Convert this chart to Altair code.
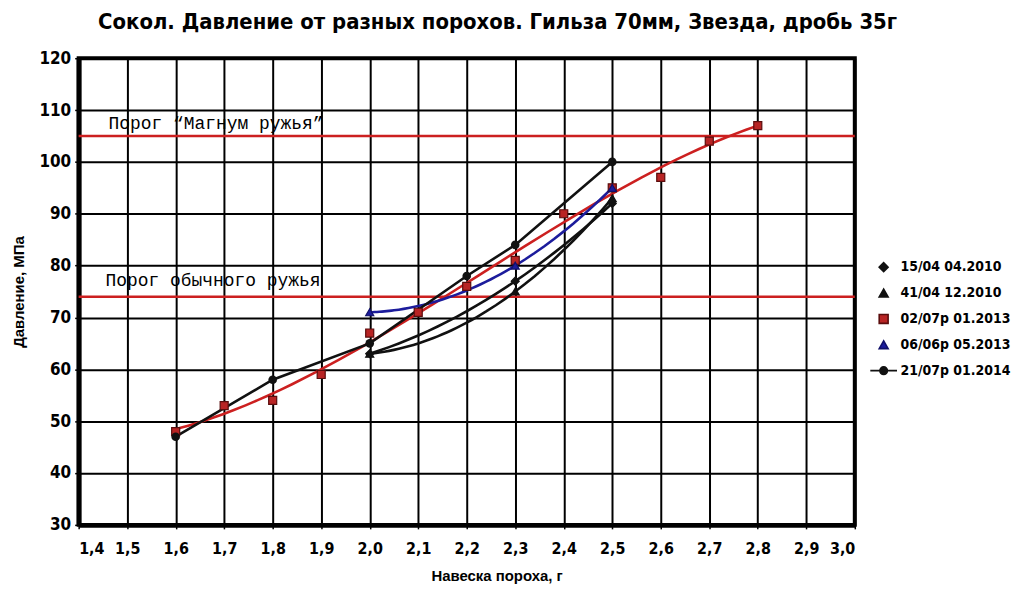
import altair as alt
import pandas as pd

# ---------------- data ----------------
series_names = ["15/04 04.2010", "41/04 12.2010", "02/07р 01.2013", "06/06р 05.2013", "21/07р 01.2014"]

s1_x = [2.0, 2.3, 2.5]
s1_y = [63, 77, 92]
s2_x = [2.0, 2.3, 2.5]
s2_y = [63, 75, 93]
s3_x = [1.6, 1.7, 1.8, 1.9, 2.0, 2.1, 2.2, 2.3, 2.4, 2.5, 2.6, 2.7, 2.8]
s3_y = [48, 53, 54, 59, 67, 71, 76, 81, 90, 95, 97, 104, 107]
s4_x = [2.0, 2.3, 2.5]
s4_y = [71, 80, 95]
s5_x = [1.6, 1.8, 2.0, 2.2, 2.3, 2.5]
s5_y = [47, 58, 65, 78, 84, 100]

thresholds = [105, 74]
threshold_labels = ["Порог “Магнум ружья”", "Порог обычного ружья"]

x_ticks = [1.4, 1.5, 1.6, 1.7, 1.8, 1.9, 2.0, 2.1, 2.2, 2.3, 2.4, 2.5, 2.6, 2.7, 2.8, 2.9, 3.0]
y_ticks = [30, 40, 50, 60, 70, 80, 90, 100, 110, 120]

title_text = "Сокол. Давление от разных порохов. Гильза 70мм, Звезда, дробь 35г"
x_title = "Навеска пороха, г"
y_title = "Давление, МПа"

# ---------------- tables ----------------
all_x = [s1_x, s2_x, s3_x, s4_x, s5_x]
all_y = [s1_y, s2_y, s3_y, s4_y, s5_y]
rows = []
for name, xs, ys in zip(series_names, all_x, all_y):
    for xv, yv in zip(xs, ys):
        rows.append({"series": name, "x": xv, "y": yv})
df = pd.DataFrame(rows)
thr_df = pd.DataFrame({"y": thresholds, "label": threshold_labels})

# ---------------- styling ----------------
RED_LINE = "#cc2020"
BLUE = "#1c1c9c"
BLACK = "#111111"
LEGEND_LINE_CIRCLE = "M-3,0L3,0M-0.85,0A0.85,0.85,0,1,0,0.85,0A0.85,0.85,0,1,0,-0.85,0Z"
COND = "DejaVu Sans Condensed, Liberation Sans"

shapes = ["diamond", "triangle-up", "square", "triangle-up", LEGEND_LINE_CIRCLE]
fills = [BLACK, BLACK, "#b82424", BLUE, BLACK]
strokes = [BLACK, BLACK, "#5a0c0c", "#10106a", BLACK]

x_scale = alt.Scale(domain=[1.4, 3.0], nice=False, zero=False)
y_scale = alt.Scale(domain=[30, 120], nice=False, zero=False)

x_enc = alt.X(
    "x:Q", scale=x_scale, title=x_title,
    axis=alt.Axis(values=x_ticks, labelExpr="replace(format(datum.value, '.1f'), '.', ',')",
                  titleX=420),
)
y_enc = alt.Y("y:Q", scale=y_scale, title=y_title, axis=alt.Axis(values=y_ticks))

base = alt.Chart(df)


def trend(name, color, order=2, extent=None):
    kw = {"method": "poly", "order": order}
    if extent is not None:
        kw["extent"] = extent
    return (
        base.transform_filter(alt.datum.series == name)
        .transform_regression("x", "y", **kw)
        .mark_line(color=color, strokeWidth=2.6)
        .encode(x=x_enc, y=y_enc)
    )


thr_rules = alt.Chart(thr_df).mark_rule(color=RED_LINE, strokeWidth=2.4).encode(y=alt.Y("y:Q", scale=y_scale))

txt_font = "Liberation Mono"
thr_text1 = (
    alt.Chart(thr_df).transform_filter(alt.datum.y == thresholds[0])
    .mark_text(font=txt_font, fontSize=18, align="left", baseline="bottom", dx=30, dy=-3, color="black")
    .encode(x=alt.datum(1.4), y=alt.Y("y:Q", scale=y_scale), text="label:N")
)
thr_text2 = (
    alt.Chart(thr_df).transform_filter(alt.datum.y == thresholds[1])
    .mark_text(font=txt_font, fontSize=18, align="left", baseline="bottom", dx=27, dy=-7, color="black")
    .encode(x=alt.datum(1.4), y=alt.Y("y:Q", scale=y_scale), text="label:N")
)

red_trend = trend(series_names[2], RED_LINE, order=3, extent=[1.6, 2.8])
t1 = trend(series_names[0], BLACK)
t2 = trend(series_names[1], BLACK)
t4 = trend(series_names[3], BLUE)

line5 = (
    base.transform_filter(alt.datum.series == series_names[4])
    .mark_line(color=BLACK, strokeWidth=2.6)
    .encode(x=x_enc, y=y_enc)
)
pts5 = (
    base.transform_filter(alt.datum.series == series_names[4])
    .mark_point(filled=True, shape="circle", size=75, color=BLACK, opacity=1)
    .encode(x=x_enc, y=y_enc)
)

legend = alt.Legend(
    title=None, orient="none", legendX=802, legendY=203,
    labelFont=COND, labelFontWeight="bold", labelFontSize=14, labelColor="black",
    symbolSize=80, symbolStrokeWidth=1.6, rowPadding=10, labelOffset=10, labelLimit=200,
)

pts = (
    base.transform_filter(alt.datum.series != series_names[4])
    .mark_point(filled=True, size=65, strokeWidth=1.2, opacity=1)
    .encode(
        x=x_enc, y=y_enc,
        shape=alt.Shape("series:N", scale=alt.Scale(domain=series_names, range=shapes), legend=legend, title=None),
        fill=alt.Fill("series:N", scale=alt.Scale(domain=series_names, range=fills), legend=legend, title=None),
        stroke=alt.Stroke("series:N", scale=alt.Scale(domain=series_names, range=strokes), legend=legend, title=None),
    )
)

chart = (
    alt.layer(thr_rules, thr_text1, thr_text2, red_trend, t1, t2, t4, line5, pts, pts5)
    .properties(
        width=780, height=469,
        title=alt.TitleParams(title_text, font=COND,
                              fontSize=22, fontWeight="bold", color="black", anchor="middle", dx=31, offset=15),
        padding={"left": 4, "top": 2, "right": 5, "bottom": 5},
        background="white",
    )
    .configure_view(stroke="black", strokeWidth=4, fill="white")
    .configure_axis(
        grid=True, gridColor="black", gridWidth=2, gridOpacity=1,
        domain=True, domainColor="black", domainWidth=5,
        tickColor="black", tickSize=4, tickWidth=1.5,
        labelFont=COND,
        labelFontWeight="bold", labelColor="black",
        titleFont="Liberation Sans", titleFontWeight="bold", titleColor="black", titleFontSize=15,
    )
    .configure_axisX(labelFontSize=16, labelPadding=12, titlePadding=12)
    .configure_axisY(labelFontSize=17, labelPadding=4, titlePadding=12)
)

chart.save("out.html", embed_options={"renderer": "svg", "actions": False})
